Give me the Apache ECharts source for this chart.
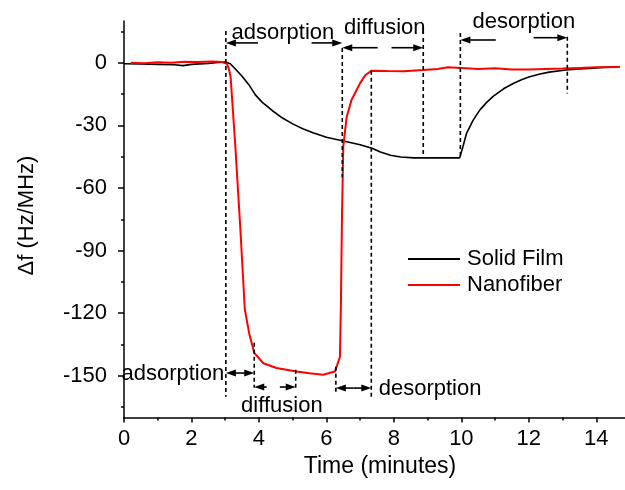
<!DOCTYPE html>
<html>
<head>
<meta charset="utf-8">
<script src="https://cdn.jsdelivr.net/npm/echarts@6/dist/echarts.min.js"></script>
<style>
html,body{margin:0;padding:0;background:#fff;}
#chart{width:625px;height:490px;}
</style>
</head>
<body>
<div id="chart"></div>
<script>
// ---- data (time in minutes, Δf in Hz/MHz) ----
const solidFilmTime = [0.0,0.5,1.0,1.5,1.75,2.0,2.5,2.85,3.0,3.15,3.3,3.5,3.7,3.9,4.1,4.4,4.7,5.0,5.3,5.6,6.0,6.5,7.0,7.35,7.6,7.9,8.2,8.6,9.0,9.5,9.95,10.05,10.15,10.35,10.55,10.75,10.95,11.25,11.55,11.8,12.0,12.3,12.6,13.1,13.5,13.9,14.2,14.6];
const solidFilmShift = [-0.5,-0.6,-0.8,-1.0,-1.4,-0.8,-0.3,0.2,0.3,-0.5,-3,-6.5,-10.5,-15.5,-19,-23,-26.5,-29.3,-31.6,-33.5,-35.7,-37.5,-39.3,-41,-42.8,-44.3,-45.2,-45.6,-45.6,-45.5,-45.6,-40,-34,-27.5,-22.6,-19,-16,-12.5,-9.8,-8,-6.8,-5.5,-4.5,-3.5,-3.0,-2.6,-2.2,-2.0];

const nanofiberTime = [0.2,0.6,1.0,1.4,1.8,2.2,2.6,2.9,3.05,3.1,3.16,3.3,3.45,3.58,3.71,3.86,4.13,4.52,5.11,5.5,5.9,6.25,6.4,6.43,6.46,6.5,6.6,6.74,6.99,7.15,7.34,7.8,8.3,8.86,9.3,9.6,10.0,10.5,11.0,11.5,12.0,12.5,13.0,13.5,14.0,14.7];
const nanofiberShift = [0,-0.2,0.2,0,0.5,0.3,0.6,0.3,-0.5,-2.5,-6.7,-40,-80,-118,-129.6,-139,-144,-146.3,-148,-148.8,-149.5,-148,-141,-115,-75,-40,-26,-18,-10,-6,-3.8,-4,-4.1,-3.5,-3.0,-2.2,-2.5,-3,-2.7,-3.2,-3.3,-3,-2.8,-2.5,-2.2,-2.0];

const xTickLabels = [0,2,4,6,8,10,12,14];
const xMinorTicks = [1,3,5,7,9,11,13];
const yTickLabels = [0,-30,-60,-90,-120,-150];
const yMinorTicks = [15,-15,-45,-75,-105,-135,-165];

const seriesNames = ['Solid Film','Nanofiber'];

// annotation guides in data units: [time, shiftTop, shiftBottom]
const guideLines = [
  [3.02, 15.2, -160],
  [6.47, 7.1, -55],
  [8.87, 11.9, -45.5],
  [9.97, 14.3, -45.5],
  [13.14, 12.4, -14.7],
  [7.33, -3.8, -161],
  [3.86, -134.2, -155.7],
  [5.09, -147.1, -156.7],
  [6.28, -145.7, -159.1]
];
// arrows: [fromTime, toTime (head), shift]
const phaseArrows = [
  [3.97, 3.02, 9.5],
  [5.56, 6.47, 9.5],
  [7.52, 6.47, 7.2],
  [7.93, 8.87, 7.2],
  [11.02, 9.97, 10.9],
  [12.14, 13.14, 12.0],
  [3.44, 3.02, -148.7],
  [3.44, 3.86, -148.7],
  [4.23, 3.86, -155.4],
  [4.62, 5.09, -155.4],
  [6.80, 6.28, -155.9],
  [6.80, 7.33, -155.9]
];
// labels: [time, shift, text, align]
const phaseLabels = [
  [4.71, 14.3, 'adsorption', 'center'],
  [7.73, 16.7, 'diffusion', 'center'],
  [11.85, 19.7, 'desorption', 'center'],
  [2.97, -149, 'adsorption', 'right'],
  [4.68, -164.4, 'diffusion', 'center'],
  [7.55, -156.2, 'desorption', 'left']
];

const FONT = '"Liberation Sans", Arial, sans-serif';
const chart = echarts.init(document.getElementById('chart'), null, {renderer:'canvas'});

function zip(a,b){ return a.map((v,i)=>[v,b[i]]); }

const axisLineStyle = {color:'#000', width:1.5};

const option = {
  animation:false,
  backgroundColor:'#fff',
  grid:{left:124, right:0, top:21, bottom:72.5, containLabel:false},
  xAxis:[
    {type:'value', min:0, max:14.85,
     axisLine:{show:true, onZero:false, lineStyle:axisLineStyle},
     axisTick:{show:true, inside:false, length:5, customValues:xTickLabels, lineStyle:{color:'#000', width:1.5}},
     axisLabel:{customValues:xTickLabels, color:'#000', fontSize:22, fontFamily:FONT, margin:10},
     splitLine:{show:false}},
    {type:'value', min:0, max:14.85, position:'bottom',
     axisLine:{show:false, onZero:false},
     axisTick:{show:true, inside:false, length:3, customValues:xMinorTicks, lineStyle:{color:'#000', width:1.5}},
     axisLabel:{show:false},
     splitLine:{show:false}}
  ],
  yAxis:[
    {type:'value', min:-170, max:20,
     axisLine:{show:true, onZero:false, lineStyle:axisLineStyle},
     axisTick:{show:true, inside:false, length:6, customValues:yTickLabels, lineStyle:{color:'#000', width:1.5}},
     axisLabel:{customValues:yTickLabels, color:'#000', fontSize:22, fontFamily:FONT, margin:17},
     splitLine:{show:false}},
    {type:'value', min:-170, max:20, position:'left', offset:0,
     axisLine:{show:false, onZero:false},
     axisTick:{show:true, inside:false, length:3, customValues:yMinorTicks, lineStyle:{color:'#000', width:1.5}},
     axisLabel:{show:false},
     splitLine:{show:false}}
  ],
  legend:{
    data:seriesNames, orient:'vertical', left:408, top:246, padding:0,
    icon:'rect', itemWidth:52, itemHeight:2, itemGap:0,
    textStyle:{color:'#000', fontSize:22, fontFamily:FONT, lineHeight:26, padding:[0,0,0,2]}
  },
  graphic:[
    {type:'text', x:380, y:467, silent:true,
     style:{text:'Time (minutes)', font:'23px ' + FONT, fill:'#000', align:'center', verticalAlign:'middle', textAlign:'center', textVerticalAlign:'middle'}},
    {type:'text', x:27, y:215.5, rotation:Math.PI/2, silent:true,
     style:{text:'\u0394f (Hz/MHz)', font:'22px ' + FONT, fill:'#000', align:'center', verticalAlign:'middle', textAlign:'center', textVerticalAlign:'middle'}}
  ],
  series:[
    {name:seriesNames[0], type:'line', data:zip(solidFilmTime, solidFilmShift), symbol:'none', smooth:false,
     lineStyle:{color:'#000', width:1.6}, itemStyle:{color:'#000'}, z:3},
    {name:seriesNames[1], type:'line', data:zip(nanofiberTime, nanofiberShift), symbol:'none', smooth:false,
     lineStyle:{color:'#ff0000', width:2}, itemStyle:{color:'#ff0000'}, z:4},
    {type:'custom', name:'guides', data:guideLines, z:5, silent:true,
     renderItem:function(params, api){
       const p1 = api.coord([api.value(0), api.value(1)]);
       const p2 = api.coord([api.value(0), api.value(2)]);
       return {type:'line', shape:{x1:p1[0], y1:p1[1], x2:p2[0], y2:p2[1]},
               style:{stroke:'#000', lineWidth:1.6, lineDash:[4,3]}};
     }},
    {type:'custom', name:'arrows', data:phaseArrows, z:5, silent:true,
     renderItem:function(params, api){
       const p0 = api.coord([api.value(0), api.value(2)]);
       const p1 = api.coord([api.value(1), api.value(2)]);
       const dir = p1[0] > p0[0] ? 1 : -1;
       const L = 10, W = 3.5;
       return {type:'group', children:[
         {type:'line', shape:{x1:p0[0], y1:p0[1], x2:p1[0]-dir*L*0.5, y2:p1[1]}, style:{stroke:'#000', lineWidth:1.6}},
         {type:'polygon', shape:{points:[[p1[0], p1[1]], [p1[0]-dir*L, p1[1]-W], [p1[0]-dir*L, p1[1]+W]]}, style:{fill:'#000'}}
       ]};
     }},
    {type:'custom', name:'labels', data:phaseLabels, z:6, silent:true,
     renderItem:function(params, api){
       const item = phaseLabels[params.dataIndex];
       const p = api.coord([item[0], item[1]]);
       return {type:'text', x:p[0], y:p[1],
               style:{text:item[2], font:'22px ' + FONT, fill:'#000', align:item[3], verticalAlign:'middle', textAlign:item[3], textVerticalAlign:'middle'}};
     }}
  ]
};
chart.setOption(option);
</script>
</body>
</html>
